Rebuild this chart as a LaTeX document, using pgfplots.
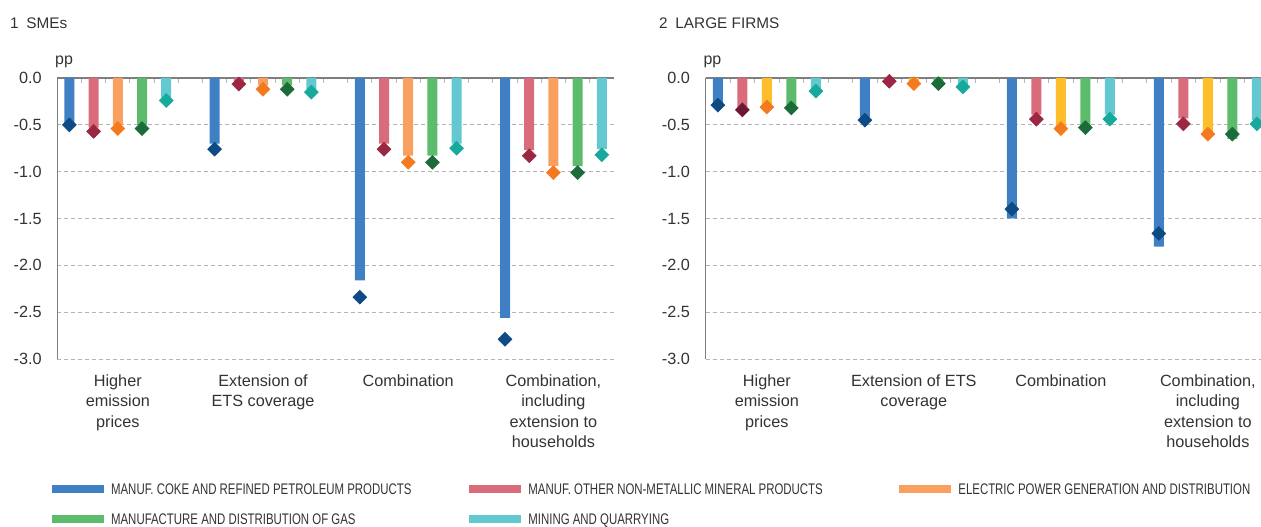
\documentclass[border=0pt]{standalone}
\usepackage{pgfplots}
\pgfplotsset{compat=1.18}
\usepackage{fontspec}
\setmainfont{Liberation Sans}
\usepackage{graphicx}

\definecolor{cBlue}{HTML}{3F80C4}
\definecolor{cRed}{HTML}{D86C7A}
\definecolor{cOrange}{HTML}{F9A060}
\definecolor{cYellow}{HTML}{FEBD2A}
\definecolor{cGreen}{HTML}{5DBC6B}
\definecolor{cCyan}{HTML}{63C8D0}
\definecolor{dBlue}{HTML}{0E4A84}
\definecolor{dRed}{HTML}{9B2743}
\definecolor{dMaroon}{HTML}{6E1732}
\definecolor{dOrange}{HTML}{F47A20}
\definecolor{dGreen}{HTML}{1C6B3B}
\definecolor{dTeal}{HTML}{17A99B}
\definecolor{axisgray}{HTML}{7F7F7F}
\definecolor{gridgray}{HTML}{B4B4B4}
\definecolor{txt}{HTML}{333333}

\pgfplotsset{
  panel/.style={
    scale only axis, height=281bp,
    xmin=-0.5, xmax=22.5, ymin=-3, ymax=0,
    axis x line*=top, axis y line*=left,
    axis line style={draw=axisgray, line width=1.1bp},
    xtick={0.5,1.5,...,21.5}, xticklabels={},
    major tick length=5bp,
    x tick style={draw=gridgray, line width=0.9bp},
    ytick={-3,-2.5,...,0},
    y tick style={draw=none},
    ymajorgrids,
    grid style={draw=gridgray, line width=0.8bp, dash pattern=on 4bp off 3bp},
    /pgf/number format/assume math mode=true,
    yticklabel style={/pgf/number format/.cd, fixed, fixed zerofill, precision=1,
      /tikz/.cd, inner sep=0pt, xshift=-15.5bp, font=\fontsize{16.3}{19}\selectfont, text=txt},
    clip=false,
  },
  mybar/.style={ybar, bar width=10bp, bar shift=0pt, fill=#1, draw=none,
    legend image code/.code={\fill[fill=#1] (0bp,-4bp) rectangle (52bp,4bp);}},
  mydia/.style={only marks, color=#1, mark=square*, mark size=4.9bp,
    mark options={rotate=45, solid, fill=#1, draw=#1, line width=0.6bp}, forget plot},
}
\tikzset{
  catlabel/.style={anchor=north, yshift=-15.5bp, inner sep=0pt, align=center,
    font=\fontsize{16.3}{20.5}\selectfont, text=txt},
}

\newcommand{\legtext}[2]{\makebox[#1][l]{\scalebox{0.745}[1]{#2}}}

\begin{document}
\begin{tikzpicture}
\useasboundingbox (0,0) rectangle (1261bp,527bp);

% panel 1: SMEs
\begin{axis}[panel, width=556.6bp,
  at={(57.3bp,168bp)}, anchor=south west,
  legend style={draw=none, fill=none, inner sep=0pt, outer sep=0pt,
    at={(axis description cs:-0.01006,-0.4440)}, anchor=north west,
    row sep=18.8bp, cells={anchor=west},
    /tikz/every odd column/.append style={column sep=7.4bp},
    nodes={inner sep=0pt, text height=11bp, text depth=0bp,
      font=\fontsize{15.4}{18}\selectfont, text=txt}},
  legend columns=3,
]
\addplot[mybar=cBlue] coordinates {(0,-0.48) (6,-0.70) (12,-2.16) (18,-2.56)};
\addlegendentry{\legtext{357.9bp}{MANUF. COKE AND REFINED PETROLEUM PRODUCTS}}
\addplot[mybar=cRed] coordinates {(1,-0.53) (7,-0.03) (13,-0.70) (19,-0.77)};
\addlegendentry{\legtext{370.6bp}{MANUF. OTHER NON-METALLIC MINERAL PRODUCTS}}
\addplot[mybar=cOrange] coordinates {(2,-0.50) (8,-0.08) (14,-0.83) (20,-0.94)};
\addlegendentry{\legtext{300bp}{ELECTRIC POWER GENERATION AND DISTRIBUTION}}
\addplot[mybar=cGreen] coordinates {(3,-0.50) (9,-0.08) (15,-0.83) (21,-0.94)};
\addlegendentry{\legtext{357.9bp}{MANUFACTURE AND DISTRIBUTION OF GAS}}
\addplot[mybar=cCyan] coordinates {(4,-0.21) (10,-0.12) (16,-0.70) (22,-0.76)};
\addlegendentry{\legtext{370.6bp}{MINING AND QUARRYING}}

\addplot[mydia=dBlue] coordinates {(0,-0.50) (6,-0.76) (12,-2.34) (18,-2.79)};
\addplot[mydia=dRed] coordinates {(1,-0.57) (7,-0.065) (13,-0.76) (19,-0.83)};
\addplot[mydia=dOrange] coordinates {(2,-0.54) (8,-0.12) (14,-0.90) (20,-1.01)};
\addplot[mydia=dGreen] coordinates {(3,-0.54) (9,-0.12) (15,-0.90) (21,-1.01)};
\addplot[mydia=dTeal] coordinates {(4,-0.24) (10,-0.15) (16,-0.75) (22,-0.82)};

\node[catlabel] at (axis cs:2,-3) {Higher\\emission\\prices};
\node[catlabel] at (axis cs:8,-3) {Extension of\\ETS coverage};
\node[catlabel] at (axis cs:14,-3) {Combination};
\node[catlabel] at (axis cs:20,-3) {Combination,\\including\\extension to\\households};
\end{axis}

% panel 2: large firms
\begin{axis}[panel, width=563.5bp,
  at={(705.6bp,168bp)}, anchor=south west,
]
\addplot[mybar=cBlue] coordinates {(0,-0.27) (6,-0.42) (12,-1.50) (18,-1.80)};
\addplot[mybar=cRed] coordinates {(1,-0.31) (7,-0.02) (13,-0.39) (19,-0.43)};
\addplot[mybar=cYellow] coordinates {(2,-0.28) (8,-0.04) (14,-0.52) (20,-0.58)};
\addplot[mybar=cGreen] coordinates {(3,-0.29) (9,-0.04) (15,-0.52) (21,-0.65)};
\addplot[mybar=cCyan] coordinates {(4,-0.12) (10,-0.07) (16,-0.39) (22,-0.45)};

\addplot[mydia=dBlue] coordinates {(0,-0.29) (6,-0.45) (12,-1.40) (18,-1.66)};
\addplot[mydia=dRed] coordinates {(7,-0.035) (13,-0.44) (19,-0.49)};
\addplot[mydia=dMaroon] coordinates {(1,-0.34)};
\addplot[mydia=dOrange] coordinates {(2,-0.31) (8,-0.06) (14,-0.54) (20,-0.60)};
\addplot[mydia=dGreen] coordinates {(3,-0.32) (9,-0.06) (15,-0.53) (21,-0.60)};
\addplot[mydia=dTeal] coordinates {(4,-0.14) (10,-0.095) (16,-0.44) (22,-0.49)};

\node[catlabel] at (axis cs:2,-3) {Higher\\emission\\prices};
\node[catlabel] at (axis cs:8,-3) {Extension of ETS\\coverage};
\node[catlabel] at (axis cs:14,-3) {Combination};
\node[catlabel] at (axis cs:20,-3) {Combination,\\including\\extension to\\households};
\end{axis}

% panel titles and unit labels
\node[anchor=base west, inner sep=0pt, font=\fontsize{15.4}{18}\selectfont, text=txt]
  at (10bp,498bp) {1\hspace{0.5em}SMEs};
\node[anchor=base west, inner sep=0pt, font=\fontsize{15.4}{18}\selectfont, text=txt]
  at (659bp,498bp) {2\hspace{0.5em}LARGE FIRMS};
\node[anchor=base west, inner sep=0pt, font=\fontsize{16}{18}\selectfont, text=txt]
  at (55bp,462bp) {pp};
\node[anchor=base west, inner sep=0pt, font=\fontsize{16}{18}\selectfont, text=txt]
  at (703.3bp,462bp) {pp};
\end{tikzpicture}
\end{document}
